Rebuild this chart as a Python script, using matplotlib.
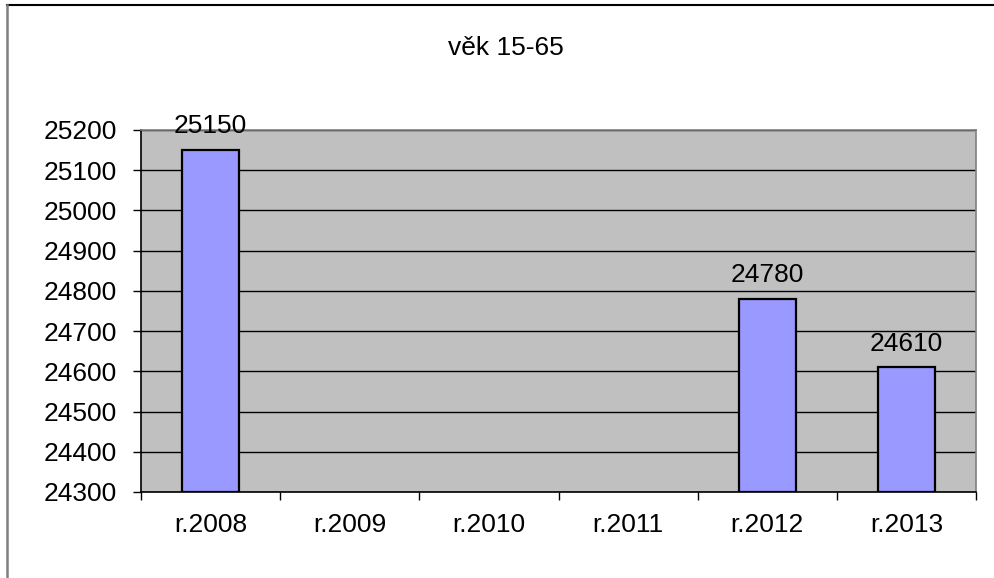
import matplotlib
matplotlib.use("Agg")
import matplotlib.pyplot as plt
from matplotlib.lines import Line2D
import numpy as np

# data
categories = ["r.2008", "r.2009", "r.2010", "r.2011", "r.2012", "r.2013"]
values = [25150, None, None, None, 24780, 24610]
title = "věk 15-65"
y_min, y_max, y_step = 24300, 25200, 100

plt.rcParams['font.family'] = ['Liberation Sans', 'DejaVu Sans']

fig = plt.figure(figsize=(9.94, 5.78), dpi=100)
ax = fig.add_axes([0.1419, 0.1488, 0.84, 0.6263])
ax.set_facecolor('#C0C0C0')

x = np.arange(len(categories))
for xi, v in zip(x, values):
    if v is None:
        continue
    ax.bar(xi, v - y_min, bottom=y_min, width=0.407, color='#9999FF',
           edgecolor='black', linewidth=1.6, zorder=3)
    ax.annotate(str(v), (xi, v), xytext=(0, 12), textcoords='offset points',
                ha='center', va='baseline', fontsize=19, zorder=4)

ax.set_xlim(-0.5, len(categories) - 0.5)
ax.set_ylim(y_min, y_max)
ax.set_yticks(np.arange(y_min, y_max + 1, y_step))
ax.set_xticks(np.arange(-0.5, len(categories), 1.0))
ax.set_xticklabels([])
ax.set_xticks(x, minor=True)
ax.set_xticklabels(categories, minor=True)

ax.tick_params(axis='y', which='major', direction='out', length=6, width=1,
               pad=11.5, labelsize=19)
ax.tick_params(axis='x', which='major', direction='out', length=5.5, width=1)
ax.tick_params(axis='x', which='minor', length=0, pad=15, labelsize=19)

ax.yaxis.grid(True, color='black', linewidth=1)
ax.set_axisbelow(True)

ax.spines['left'].set_color('black')
ax.spines['bottom'].set_color('black')
ax.spines['bottom'].set_zorder(5)
ax.spines['top'].set_color('#808080')
ax.spines['right'].set_color('#808080')
for s in ax.spines.values():
    s.set_linewidth(1.2)

fig.text(506 / 994, 1 - 48 / 578, title, ha='center', va='center', fontsize=19)

# outer chart border (top and left visible)
fig.add_artist(Line2D([7 / 994, 1.0], [1 - 5 / 578, 1 - 5 / 578],
                      color='black', linewidth=1.5))
fig.add_artist(Line2D([7 / 994, 7 / 994], [0.0, 1 - 5 / 578],
                      color='#808080', linewidth=1.8))

fig.savefig("out.png", dpi=100)
